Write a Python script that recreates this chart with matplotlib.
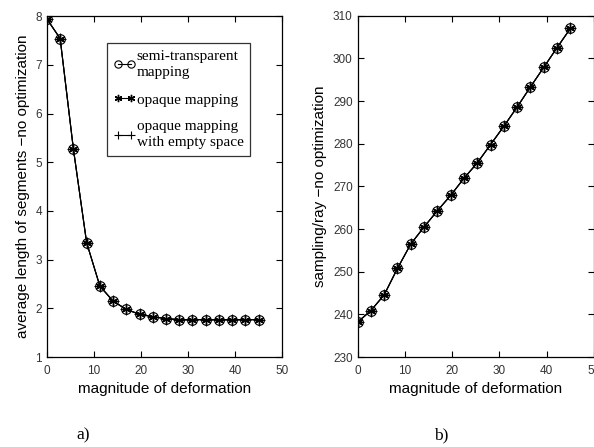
import numpy as np
import matplotlib.pyplot as plt

# magnitude of deformation (17 steps)
deform = [0, 2.81, 5.63, 8.44, 11.25, 14.06, 16.88, 19.69, 22.5,
          25.31, 28.13, 30.94, 33.75, 36.56, 39.38, 42.19, 45.0]

# a) average length of segments
seg_semi = [7.94, 7.54, 5.27, 3.35, 2.46, 2.15, 1.98, 1.88, 1.83,
            1.79, 1.77, 1.77, 1.77, 1.77, 1.77, 1.77, 1.77]
seg_opaque = [7.94, 7.54, 5.27, 3.35, 2.46, 2.15, 1.98, 1.88, 1.83,
              1.79, 1.77, 1.77, 1.77, 1.77, 1.77, 1.77, 1.77]
seg_empty = [7.94, 7.54, 5.27, 3.35, 2.46, 2.15, 1.98, 1.88, 1.83,
             1.79, 1.77, 1.77, 1.77, 1.77, 1.77, 1.77, 1.77]

# b) sampling per ray
samp_semi = [238.2, 240.9, 244.6, 250.8, 256.5, 260.5, 264.3, 267.9, 271.9,
             275.5, 279.8, 284.1, 288.6, 293.3, 297.9, 302.5, 307.0]
samp_opaque = samp_semi
samp_empty = samp_semi

legend_labels = ['semi-transparent\nmapping', 'opaque mapping',
                 'opaque mapping\nwith empty space']

plt.rcParams['font.family'] = 'Liberation Sans'

fig = plt.figure(figsize=(5.94, 4.47), dpi=100)
ax1 = fig.add_axes([0.079, 0.201, 0.396, 0.763])
ax2 = fig.add_axes([0.602, 0.201, 0.398, 0.764])

star = (6, 2, 0)


def draw(ax, a, b, c):
    ax.plot(deform, a, '-', color='k', lw=0.8, marker='o', ms=7,
            mfc='none', mec='k', mew=0.8, label=legend_labels[0])
    ax.plot(deform, b, '-', color='k', lw=0.8, marker=star, ms=7,
            mec='k', mew=1.0, label=legend_labels[1])
    ax.plot(deform, c, '-', color='k', lw=0.8, marker='+', ms=8,
            mec='k', mew=0.8, label=legend_labels[2])
    ax.tick_params(direction='in', top=True, right=True, length=4,
                   width=0.8, labelsize=8.5, colors='k', labelcolor='#333333')
    ax.tick_params(axis='x', pad=6)
    for s in ax.spines.values():
        s.set_linewidth(0.9)
    ax.set_xlabel('magnitude of deformation', fontsize=11, labelpad=3)


draw(ax1, seg_semi, seg_opaque, seg_empty)
ax1.set_xlim(0, 50)
ax1.set_ylim(1, 8)
ax1.set_xticks([0, 10, 20, 30, 40, 50])
ax1.set_yticks(range(1, 9))
ax1.set_ylabel('average length of segments \u2212no optimization', fontsize=11, labelpad=4)

# legend handles: short line with a marker at both ends
leg = ax1.legend(loc='upper left', bbox_to_anchor=(0.255, 0.92), frameon=True,
                 fancybox=False, edgecolor='k', handlelength=1.4, numpoints=2,
                 markerscale=0.75, handletextpad=0.1, borderpad=0.45,
                 labelspacing=0.9, borderaxespad=0,
                 prop={'family': 'Liberation Serif', 'size': 11})
leg.get_frame().set_linewidth(0.9)
for t in leg.get_texts():
    t.set_linespacing(1.3)

draw(ax2, samp_semi, samp_opaque, samp_empty)
ax2.set_xlim(0, 50)
ax2.set_ylim(230, 310)
ax2.set_xticks([0, 10, 20, 30, 40, 50])
ax2.set_yticks(range(230, 311, 10))
ax2.set_ylabel('sampling/ray \u2212no optimization', fontsize=11, labelpad=4)

fig.text(0.128, 0.018, 'a)', family='Liberation Serif', fontsize=12.5)
fig.text(0.73, 0.018, 'b)', family='Liberation Serif', fontsize=12.5)

fig.savefig('out.png', dpi=100)
